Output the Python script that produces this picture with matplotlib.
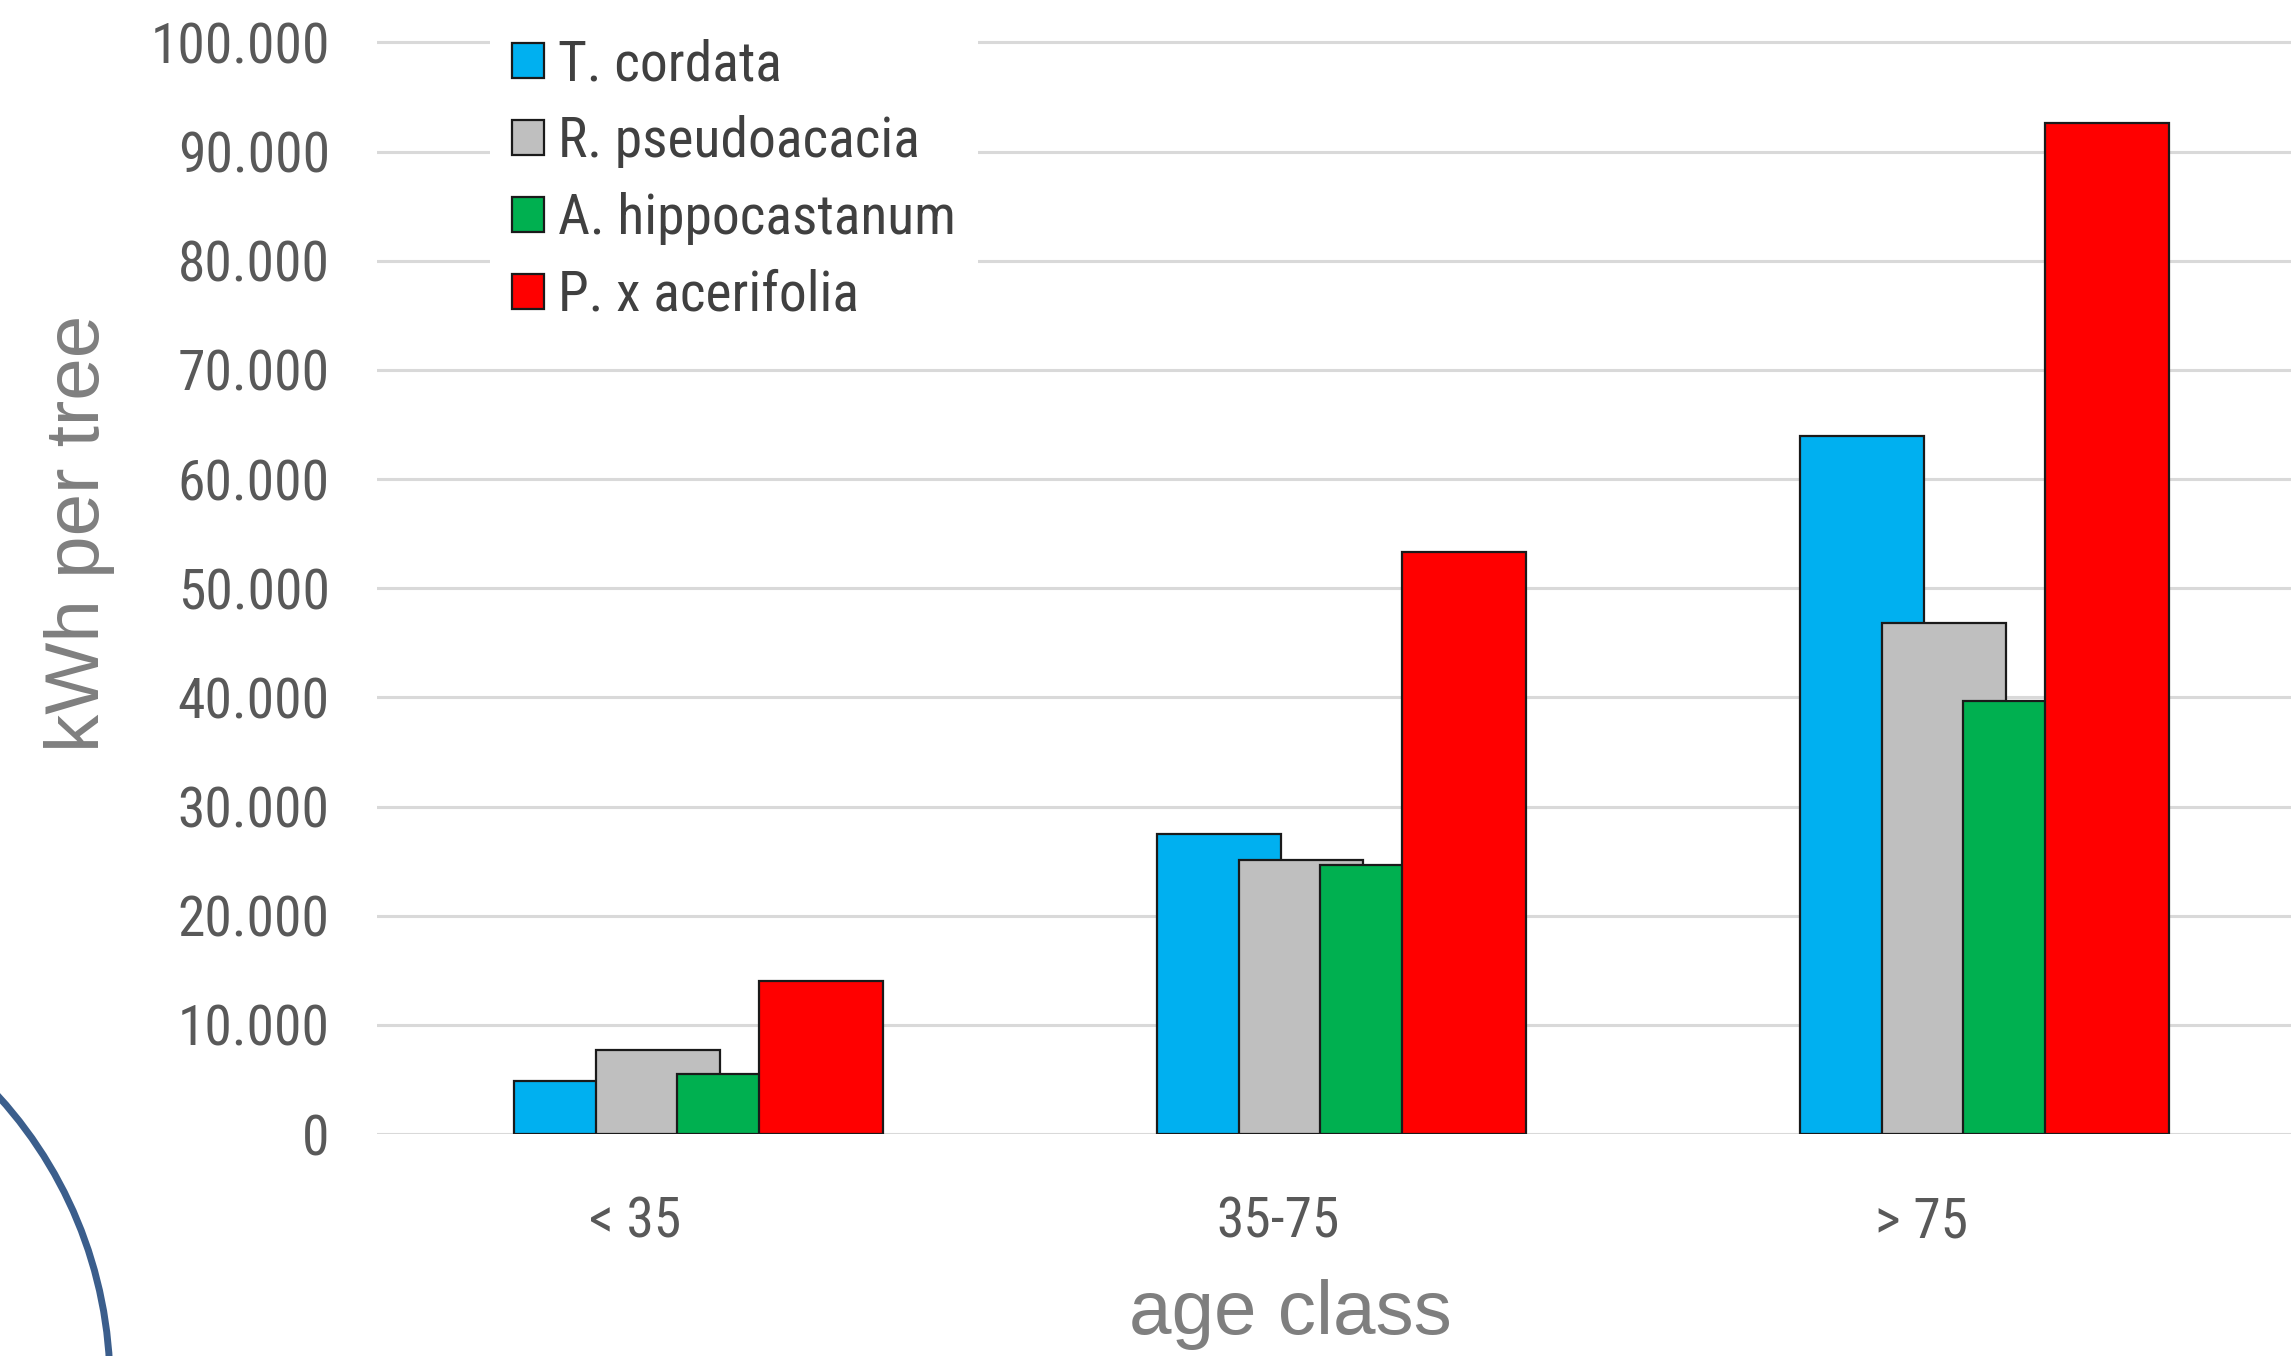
import matplotlib
matplotlib.use("Agg")
import matplotlib.pyplot as plt
from matplotlib.patches import Ellipse
from matplotlib.transforms import ScaledTranslation
from matplotlib.ticker import FuncFormatter
import numpy as np

categories = ["< 35", "35-75", "> 75"]
species = ["T. cordata", "R. pseudoacacia", "A. hippocastanum", "P. x acerifolia"]
t_cordata = [4900, 27500, 63900]
r_pseudoacacia = [7700, 25100, 46800]
a_hippocastanum = [5500, 24600, 39700]
p_acerifolia = [14000, 53300, 92600]
yticks = [0, 10000, 20000, 30000, 40000, 50000, 60000, 70000, 80000, 90000, 100000]

series = [t_cordata, r_pseudoacacia, a_hippocastanum, p_acerifolia]
colors = ["#00b0f0", "#bfbfbf", "#00b050", "#ff0000"]

plt.rcParams['font.family'] = ['Liberation Sans Narrow', 'Roboto Condensed', 'Liberation Sans', 'DejaVu Sans']

W, H = 2291, 1356
fig = plt.figure(figsize=(W / 100, H / 100), dpi=100)
ax = fig.add_axes([377 / W, (H - 1134) / H, 3 * 643 / W, 1124.3 / H])

x = np.arange(len(categories))
step, width = 0.127, 0.193
for i, (vals, c, name) in enumerate(zip(series, colors, species)):
    ax.bar(x + (i - 1.5) * step, vals, width=width, color=c, edgecolor="#1a1a1a",
           linewidth=1.6, label=name, zorder=3 + i)

ax.set_xlim(-0.5, 2.5)
ax.set_ylim(0, 103000)
ax.set_yticks(yticks)
ax.yaxis.set_major_formatter(FuncFormatter(lambda v, p: f"{int(v):,}".replace(",", ".")))
ax.grid(axis="y", color="#d9d9d9", linewidth=2.2, zorder=0)
ax.set_axisbelow(True)
for s in ax.spines.values():
    s.set_visible(False)
ax.tick_params(axis="y", length=0, pad=34, labelsize=40, labelcolor="#595959")
ax.set_xticks(x, categories)
ax.tick_params(axis="x", length=0, pad=44, labelsize=40, labelcolor="#595959")
for lab in ax.get_xticklabels():
    lab.set_transform(lab.get_transform() + ScaledTranslation(-63 / 100, 0, fig.dpi_scale_trans))

leg = ax.legend(loc="upper left", bbox_to_anchor=(490 / W, 1 - 16 / H), bbox_transform=fig.transFigure,
                borderaxespad=0, fontsize=40, frameon=True, facecolor="white", edgecolor="none",
                framealpha=1, handlelength=0.58, handleheight=0.58, handletextpad=0.25,
                labelspacing=0.43, borderpad=0.4)
for t in leg.get_texts():
    t.set_color("#404040")

fig.text(80 / W, 1 - 533 / H, "kWh per tree", rotation=90, ha="center", va="center",
         fontsize=55, color="#7f7f7f", family=["Liberation Sans", "DejaVu Sans"])
fig.text(1290 / W, 1 - 1315 / H, "age class", ha="center", va="center",
         fontsize=55, color="#7f7f7f", family=["Liberation Sans", "DejaVu Sans"])

arc = Ellipse((-319 / W, 1 - 1385 / H), 858 / W, 858 / H, transform=fig.transFigure,
              fill=False, edgecolor="#3b5e8c", linewidth=5)
fig.add_artist(arc)

fig.savefig("out.png", dpi=100)
